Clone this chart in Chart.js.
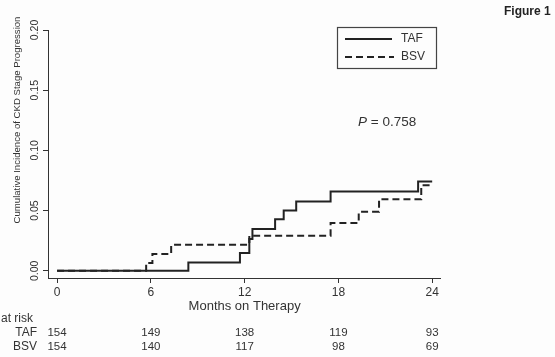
<!DOCTYPE html>
<html>
<head>
<meta charset="utf-8">
<script src="https://cdn.jsdelivr.net/npm/chart.js@4.4.0/dist/chart.umd.min.js"></script>
<style>
  html, body { margin: 0; padding: 0; background: #fdfdfd; }
</style>
</head>
<body>
<canvas id="km" width="555" height="357"></canvas>
<script>
// axis ticks
var xTicks = [0, 6, 12, 18, 24];
var yTicks = [0, 0.05, 0.10, 0.15, 0.20];

// step curves (month of event, cumulative incidence after it)
var tafMonths = [0, 8.4, 11.7, 12.3, 12.5, 13.95, 14.5, 15.3, 17.5, 23.1, 24];
var tafValues = [0, 0.0069, 0.0147, 0.0263, 0.0346, 0.0429, 0.050, 0.0575, 0.0658, 0.0741, 0.0741];
var bsvMonths = [0, 5.7, 6.1, 7.3, 12.3, 17.5, 19.3, 20.6, 23.3, 24];
var bsvValues = [0, 0.0065, 0.0139, 0.0216, 0.029, 0.0396, 0.049, 0.0595, 0.071, 0.071];

// numbers at risk
var riskTaf = [154, 149, 138, 119, 93];
var riskBsv = [154, 140, 117, 98, 69];

var FONT = '"Liberation Sans", Arial, sans-serif';
var INK = '#333';

function pts(xs, ys) {
  return xs.map(function (m, i) { return { x: m, y: ys[i] }; });
}

var kmText = {
  id: 'kmText',
  afterDraw: function (chart) {
    var ctx = chart.ctx;
    var sx = chart.scales.x, sy = chart.scales.y;
    ctx.save();
    ctx.fillStyle = INK;

    // y tick labels, turned on their side like the original
    ctx.font = '10.5px ' + FONT;
    ctx.textAlign = 'center';
    ctx.textBaseline = 'middle';
    yTicks.forEach(function (v) {
      ctx.save();
      ctx.translate(35, sy.getPixelForValue(v));
      ctx.rotate(-Math.PI / 2);
      ctx.fillText(v.toFixed(2), 0, 0);
      ctx.restore();
    });

    // y title
    ctx.save();
    ctx.translate(17, 120);
    ctx.rotate(-Math.PI / 2);
    ctx.font = '9.6px ' + FONT;
    ctx.fillText('Cumulative Incidence of CKD Stage Progression', 0, 0);
    ctx.restore();

    // x tick labels + title
    ctx.font = '12px ' + FONT;
    xTicks.forEach(function (v) {
      ctx.fillText(String(v), sx.getPixelForValue(v), 293);
    });
    ctx.font = '13px ' + FONT;
    ctx.fillText('Months on Therapy', sx.getPixelForValue(12), 306);

    // at risk table
    ctx.font = '12px ' + FONT;
    ctx.textAlign = 'left';
    ctx.fillText('at risk', 1, 319);
    ctx.textAlign = 'right';
    ctx.fillText('TAF', 37, 333);
    ctx.fillText('BSV', 37, 347);
    ctx.font = '11.5px ' + FONT;
    ctx.textAlign = 'center';
    xTicks.forEach(function (v, i) {
      ctx.fillText(String(riskTaf[i]), sx.getPixelForValue(v), 333);
      ctx.fillText(String(riskBsv[i]), sx.getPixelForValue(v), 347);
    });

    // legend box
    ctx.strokeStyle = '#444';
    ctx.lineWidth = 1.2;
    ctx.strokeRect(337.5, 27.5, 99, 41);
    ctx.lineWidth = 2;
    ctx.strokeStyle = '#222';
    ctx.beginPath(); ctx.moveTo(345, 39); ctx.lineTo(392, 39); ctx.stroke();
    ctx.setLineDash([7, 4]);
    ctx.beginPath(); ctx.moveTo(345, 57); ctx.lineTo(394, 57); ctx.stroke();
    ctx.setLineDash([]);
    ctx.textAlign = 'left';
    ctx.font = '12px ' + FONT;
    ctx.fillText('TAF', 401, 39);
    ctx.fillText('BSV', 401, 57);

    // p value
    ctx.font = 'italic 13.5px ' + FONT;
    ctx.fillText('P', 358, 122);
    ctx.font = '13.5px ' + FONT;
    ctx.fillText(' = 0.758', 367, 122);

    // figure tag
    ctx.font = 'bold 12px ' + FONT;
    ctx.fillStyle = '#222';
    ctx.fillText('Figure 1', 504, 12);
    ctx.restore();
  }
};

var axisGrid = {
  display: true,
  drawOnChartArea: false,
  drawTicks: true,
  tickLength: 5,
  color: INK,
  lineWidth: 1
};

new Chart(document.getElementById('km').getContext('2d'), {
  type: 'line',
  data: {
    datasets: [
      {
        label: 'TAF',
        data: pts(tafMonths, tafValues),
        stepped: 'before',
        borderColor: '#222',
        borderWidth: 2,
        pointRadius: 0,
        fill: false,
        order: 0
      },
      {
        label: 'BSV',
        data: pts(bsvMonths, bsvValues),
        stepped: 'before',
        borderColor: '#222',
        borderWidth: 2,
        borderDash: [7, 4],
        pointRadius: 0,
        fill: false,
        order: 1
      }
    ]
  },
  options: {
    responsive: false,
    animation: false,
    layout: { padding: { left: 0, right: 115, top: 30, bottom: 0 } },
    plugins: {
      legend: { display: false },
      tooltip: { enabled: false }
    },
    scales: {
      x: {
        type: 'linear',
        min: -0.58,
        max: 24.5,
        afterBuildTicks: function (s) { s.ticks = xTicks.map(function (v) { return { value: v }; }); },
        afterFit: function (s) { s.height = 79; },
        ticks: { display: false },
        grid: axisGrid,
        border: { display: true, color: INK, width: 1 }
      },
      y: {
        type: 'linear',
        min: -0.006,
        max: 0.20,
        afterBuildTicks: function (s) { s.ticks = yTicks.map(function (v) { return { value: v }; }); },
        afterFit: function (s) { s.width = 48; },
        ticks: { display: false },
        grid: axisGrid,
        border: { display: true, color: INK, width: 1 }
      }
    }
  },
  plugins: [kmText]
});
</script>
</body>
</html>
